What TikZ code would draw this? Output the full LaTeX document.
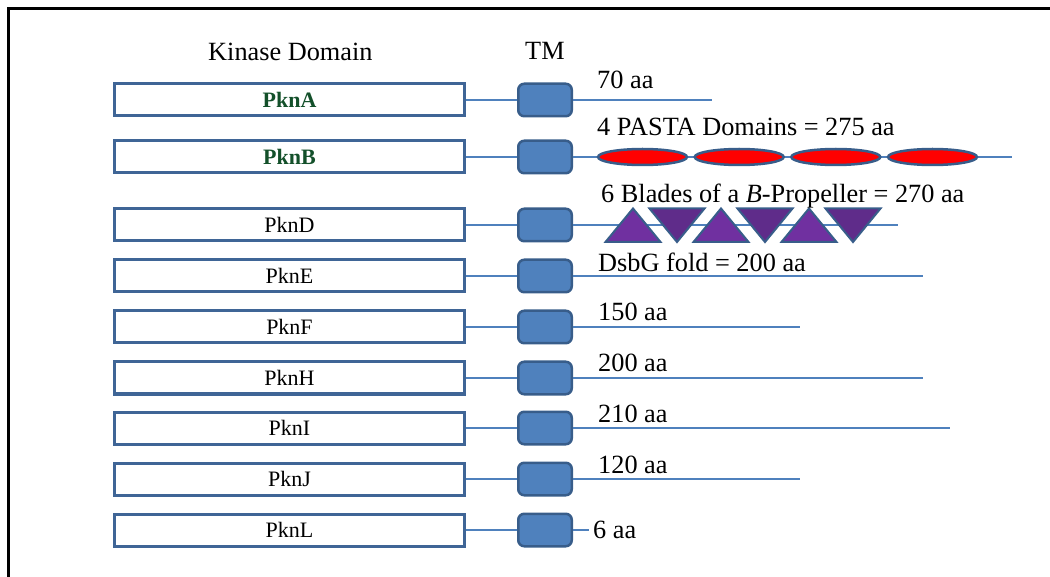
\documentclass[tikz,border=0pt]{standalone}
\usepackage{fontspec}
\setmainfont{Liberation Serif}
\usetikzlibrary{shapes.geometric}
\definecolor{boxblue}{HTML}{3F6596}
\definecolor{tmfill}{HTML}{4F81BD}
\definecolor{tmline}{HTML}{385D8A}
\definecolor{linkblue}{HTML}{4F81BD}
\definecolor{pastared}{HTML}{FF0000}
\definecolor{bladeup}{HTML}{7030A0}
\definecolor{bladedown}{HTML}{5F2C8A}
\definecolor{pkgreen}{HTML}{13502A}
\newcommand\lblfont{\fontsize{26.3}{31}\selectfont}
\newcommand\kinfont{\fontsize{22}{26}\selectfont}
\begin{document}
\begin{tikzpicture}[x=1pt,y=-1pt,
  kinbox/.style={draw=boxblue, line width=3pt, fill=white, minimum width=350pt, minimum height=32pt, inner sep=0pt, font=\kinfont},
  kinbold/.style={kinbox, text=pkgreen, font=\kinfont\bfseries},
  tmbox/.style={draw=tmline, line width=2.5pt, fill=tmfill, rounded corners=6pt, minimum width=53.5pt, minimum height=32.5pt, inner sep=0pt},
  link/.style={draw=linkblue, line width=1.2pt},
  lbl/.style={anchor=base west, inner sep=0pt, font=\lblfont},
  pasta/.style={ellipse, draw=tmline, line width=2.5pt, fill=pastared, minimum width=89pt, minimum height=16pt, inner sep=0pt},
  bladeU/.style={draw=tmline, line width=2pt, fill=bladeup, line join=miter},
  bladeD/.style={draw=tmline, line width=2pt, fill=bladedown, line join=miter},
  frame/.style={draw=black, line width=3.5pt}
]
\useasboundingbox (0,0) rectangle (1050,577);
\draw[frame] (8.5,577) -- (8.5,8.5) -- (1050,8.5);

% headers
\node[lbl] (hK) at (208,61) {Kinase Domain};
\node[lbl] (hT) at (525,60) {TM};

% kinase boxes
\node[kinbold] (kA) at (289.5,100) {PknA};
\node[kinbold] (kB) at (289.5,157) {PknB};
\node[kinbox] (kD) at (289.5,225) {PknD};
\node[kinbox] (kE) at (289.5,276) {PknE};
\node[kinbox] (kF) at (289.5,327) {PknF};
\node[kinbox] (kH) at (289.5,378) {PknH};
\node[kinbox] (kI) at (289.5,428) {PknI};
\node[kinbox] (kJ) at (289.5,479) {PknJ};
\node[kinbox] (kL) at (289.5,530) {PknL};

% TM boxes
\foreach \r/\y in {A/100,B/157,D/225,E/276,F/327,H/378,I/428,J/479,L/530}{
  \node[tmbox] (t\r) at (545,\y) {};
}

% end points
\coordinate (eA) at (712,100);
\coordinate (eB) at (1012,157);
\coordinate (eD) at (898,225);
\coordinate (eE) at (923,276);
\coordinate (eF) at (800,327);
\coordinate (eH) at (923,378);
\coordinate (eI) at (950,428);
\coordinate (eJ) at (800,479);
\coordinate (eL) at (589,530);

\foreach \r in {A,B,D,E,F,H,I,J,L}{
  \draw[link] (k\r.east) -- (t\r.west);
  \draw[link] (t\r.east) -- (e\r);
}

% PASTA domains
\node[pasta] (p1) at (642.5,157) {};
\node[pasta] (p2) at (739.2,157) {};
\node[pasta] (p3) at (835.8,157) {};
\node[pasta] (p4) at (932.5,157) {};

% beta-propeller blades
\foreach \c in {633,721,809}{
  \draw[bladeU] (\c-27.5,242) -- (\c,208.5) -- (\c+27.5,242) -- cycle;
}
\foreach \c in {677,765,853}{
  \draw[bladeD] (\c-27.5,208.5) -- (\c+27.5,208.5) -- (\c,242) -- cycle;
}

% labels
\node[lbl] (lA) at (597,89) {70 aa};
\node[lbl] (lB) at (597,136) {4 PASTA Domains = 275 aa};
\node[lbl] (lD) at (601,202.5) {6 Blades of a \textit{B}-Propeller = 270 aa};
\node[lbl] (lE) at (598,271.5) {DsbG fold = 200 aa};
\node[lbl] (lF) at (598,321) {150 aa};
\node[lbl] (lH) at (598,372) {200 aa};
\node[lbl] (lI) at (598,422) {210 aa};
\node[lbl] (lJ) at (598,473) {120 aa};
\node[lbl] (lL) at (593,538.5) {6 aa};
\end{tikzpicture}
\end{document}
